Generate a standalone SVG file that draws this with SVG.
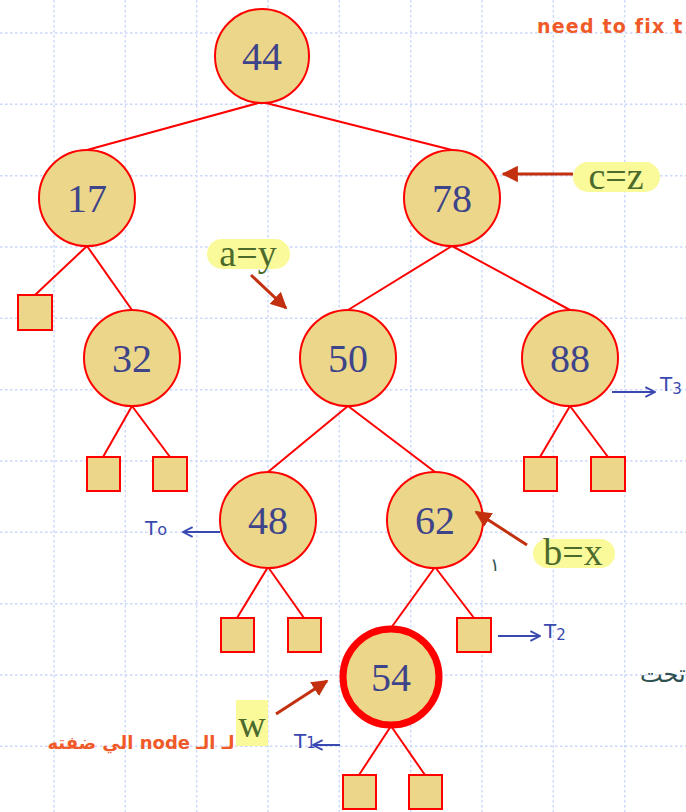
<svg xmlns="http://www.w3.org/2000/svg" width="686" height="812" viewBox="0 0 686 812">
  <style>
    .grid line { stroke: #cbd7fb; stroke-width: 1.4; stroke-dasharray: 2.5 2.5; }
    .edge { stroke: #ff0000; stroke-width: 2; fill: none; }
    .node circle { fill: #ecd689; stroke: #ff0000; stroke-width: 2; }
    .leaf rect { fill: #ecd689; stroke: #ff0000; stroke-width: 2; }
    .num { font-family: "Liberation Serif", "Times New Roman", serif; font-size: 40px; fill: #3e4489; text-anchor: middle; }
    .lbl { font-family: "Liberation Serif", "Times New Roman", serif; font-size: 38px; fill: #4c6a2c; text-anchor: middle; }
    .hl { fill: #fafa9a; }
    .ptr { stroke: #c2300f; stroke-width: 3; fill: none; }
    .note { font-family: "DejaVu Sans", "Noto Sans", sans-serif; fill: #f05a28; font-weight: bold; }
    .sub { font-family: "DejaVu Sans", "Noto Sans", sans-serif; fill: #3a49b0; font-size: 20px; }
    .blue { stroke: #3a49b0; stroke-width: 2; fill: none; }
  </style>
  <defs>
    <marker id="redHead" viewBox="0 0 10 10" refX="9" refY="5" markerWidth="5.5" markerHeight="5.5" orient="auto">
      <path d="M0,0 L10,5 L0,10 Z" fill="#c2300f"/>
    </marker>
    <marker id="blueHead" viewBox="0 0 10 10" refX="9" refY="5" markerWidth="6" markerHeight="6" orient="auto">
      <path d="M1,1 L9,5 L1,9" fill="none" stroke="#3a49b0" stroke-width="1.6"/>
    </marker>
  </defs>

  <rect width="686" height="812" fill="#ffffff"/>

  <!-- dashed background grid -->
  <g class="grid">
    <line x1="54" y1="0" x2="54" y2="812"/>
    <line x1="125.3" y1="0" x2="125.3" y2="812"/>
    <line x1="196.7" y1="0" x2="196.7" y2="812"/>
    <line x1="268" y1="0" x2="268" y2="812"/>
    <line x1="339.3" y1="0" x2="339.3" y2="812"/>
    <line x1="410.7" y1="0" x2="410.7" y2="812"/>
    <line x1="482" y1="0" x2="482" y2="812"/>
    <line x1="553.3" y1="0" x2="553.3" y2="812"/>
    <line x1="624.7" y1="0" x2="624.7" y2="812"/>
    <line x1="0" y1="33" x2="686" y2="33"/>
    <line x1="0" y1="104.3" x2="686" y2="104.3"/>
    <line x1="0" y1="175.7" x2="686" y2="175.7"/>
    <line x1="0" y1="247" x2="686" y2="247"/>
    <line x1="0" y1="318.3" x2="686" y2="318.3"/>
    <line x1="0" y1="389.7" x2="686" y2="389.7"/>
    <line x1="0" y1="461" x2="686" y2="461"/>
    <line x1="0" y1="532.3" x2="686" y2="532.3"/>
    <line x1="0" y1="603.7" x2="686" y2="603.7"/>
    <line x1="0" y1="675" x2="686" y2="675"/>
    <line x1="0" y1="746.3" x2="686" y2="746.3"/>
  </g>

  <!-- tree edges -->
  <g id="edges">
    <line class="edge" x1="262" y1="102" x2="87" y2="150"/>
    <line class="edge" x1="262" y1="102" x2="452" y2="150"/>
    <line class="edge" x1="87" y1="246" x2="35" y2="295"/>
    <line class="edge" x1="87" y1="246" x2="132" y2="310"/>
    <line class="edge" x1="452" y1="246" x2="348" y2="310"/>
    <line class="edge" x1="452" y1="246" x2="570" y2="310"/>
    <line class="edge" x1="132" y1="406" x2="103" y2="457"/>
    <line class="edge" x1="132" y1="406" x2="170" y2="457"/>
    <line class="edge" x1="348" y1="406" x2="268" y2="472"/>
    <line class="edge" x1="348" y1="406" x2="435" y2="472"/>
    <line class="edge" x1="570" y1="406" x2="540" y2="457"/>
    <line class="edge" x1="570" y1="406" x2="608" y2="457"/>
    <line class="edge" x1="268" y1="567" x2="237" y2="618"/>
    <line class="edge" x1="268" y1="567" x2="304" y2="618"/>
    <line class="edge" x1="435" y1="567" x2="391" y2="628"/>
    <line class="edge" x1="435" y1="567" x2="474" y2="618"/>
    <line class="edge" x1="391" y1="726" x2="359" y2="775"/>
    <line class="edge" x1="391" y1="726" x2="425" y2="775"/>
  </g>

  <!-- internal nodes -->
  <g id="n44" class="node"><circle cx="262" cy="56" r="47"/><text class="num" x="262" y="70">44</text></g>
  <g id="n17" class="node"><circle cx="87" cy="198" r="48"/><text class="num" x="87" y="212">17</text></g>
  <g id="n78" class="node"><circle cx="452" cy="198" r="48"/><text class="num" x="452" y="212">78</text></g>
  <g id="n32" class="node"><circle cx="132" cy="358" r="48"/><text class="num" x="132" y="372">32</text></g>
  <g id="n50" class="node"><circle cx="348" cy="358" r="48"/><text class="num" x="348" y="372">50</text></g>
  <g id="n88" class="node"><circle cx="570" cy="358" r="48"/><text class="num" x="570" y="372">88</text></g>
  <g id="n48" class="node"><circle cx="268" cy="520" r="48"/><text class="num" x="268" y="534">48</text></g>
  <g id="n62" class="node"><circle cx="435" cy="520" r="48"/><text class="num" x="435" y="534">62</text></g>
  <g id="n54" class="node"><circle cx="391" cy="677" r="48" style="stroke-width:7"/><text class="num" x="391" y="691">54</text></g>

  <!-- external (leaf) nodes -->
  <g id="leaf17" class="leaf"><rect x="18" y="295" width="34" height="35"/></g>
  <g id="leaf32a" class="leaf"><rect x="87" y="457" width="33" height="34"/></g>
  <g id="leaf32b" class="leaf"><rect x="153" y="457" width="34" height="34"/></g>
  <g id="leaf88a" class="leaf"><rect x="524" y="457" width="33" height="34"/></g>
  <g id="leaf88b" class="leaf"><rect x="591" y="457" width="34" height="34"/></g>
  <g id="leaf48a" class="leaf"><rect x="221" y="618" width="33" height="34"/></g>
  <g id="leaf48b" class="leaf"><rect x="288" y="618" width="33" height="34"/></g>
  <g id="leaf62" class="leaf"><rect x="457" y="618" width="34" height="34"/></g>
  <g id="leaf54a" class="leaf"><rect x="343" y="775" width="33" height="34"/></g>
  <g id="leaf54b" class="leaf"><rect x="409" y="775" width="33" height="34"/></g>

  <!-- restructure labels -->
  <g id="lbl-cz">
    <rect class="hl" x="573" y="162" width="87" height="30" rx="15"/>
    <text class="lbl" x="616" y="189">c=z</text>
    <line class="ptr" x1="573" y1="174" x2="503" y2="174" marker-end="url(#redHead)"/>
  </g>
  <g id="lbl-ay">
    <rect class="hl" x="207" y="239" width="83" height="30" rx="15"/>
    <text class="lbl" x="248" y="266">a=y</text>
    <line class="ptr" x1="251" y1="275" x2="286" y2="308" marker-end="url(#redHead)"/>
  </g>
  <g id="lbl-bx">
    <rect class="hl" x="533" y="539" width="82" height="29" rx="14.5"/>
    <text class="lbl" x="573" y="565">b=x</text>
    <line class="ptr" x1="527" y1="545" x2="476" y2="512" marker-end="url(#redHead)"/>
  </g>
  <g id="lbl-w">
    <rect class="hl" x="236" y="700" width="32" height="46"/>
    <text class="lbl" x="252" y="737">w</text>
    <line class="ptr" x1="276" y1="714" x2="327" y2="681" marker-end="url(#redHead)"/>
  </g>

  <!-- subtree markers -->
  <g id="t0">
    <line class="blue" x1="220" y1="532" x2="183" y2="532" marker-end="url(#blueHead)"/>
    <text class="sub" x="145" y="535">T<tspan font-size="16">o</tspan></text>
  </g>
  <g id="t3">
    <line class="blue" x1="612" y1="392" x2="655" y2="392" marker-end="url(#blueHead)"/>
    <text class="sub" x="660" y="391">T<tspan font-size="15" dy="3">3</tspan></text>
  </g>
  <g id="t2">
    <line class="blue" x1="498" y1="636" x2="540" y2="636" marker-end="url(#blueHead)"/>
    <text class="sub" x="544" y="638">T<tspan font-size="15" dy="2">2</tspan></text>
  </g>
  <g id="t1">
    <line class="blue" x1="340" y1="745" x2="313" y2="745" marker-end="url(#blueHead)"/>
    <text class="sub" x="294" y="748">T<tspan font-size="15">1</tspan></text>
  </g>

  <!-- handwritten notes -->
  <text class="note" x="537" y="33" font-size="19" letter-spacing="1.2">need to fix t</text>
  <text class="note" x="141" y="749" font-size="18" text-anchor="middle" direction="rtl">لـ الـ node الي ضفته</text>
  <text x="490" y="571" font-family="DejaVu Sans, sans-serif" font-size="18" fill="#2f5050">١</text>
  <text x="640" y="682" font-family="DejaVu Sans, sans-serif" font-size="24" fill="#2f5050">تحت</text>
</svg>
